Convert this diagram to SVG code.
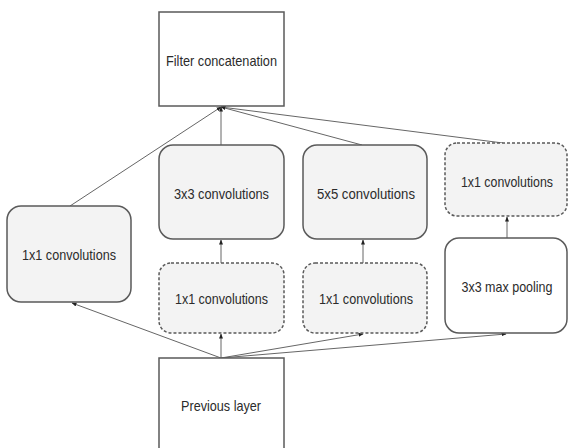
<svg xmlns="http://www.w3.org/2000/svg" width="569" height="448" viewBox="0 0 569 448">
<defs>
<style>
.box{stroke:#5a5a5a;stroke-width:1.5;}
.plain{fill:#ffffff;}
.gray{fill:#f3f3f3;}
.dash{stroke-dasharray:3 2;}
.lbl{font-family:"Liberation Sans",Arial,sans-serif;font-size:14.5px;fill:#2b2b2b;text-anchor:middle;dominant-baseline:central;}
.edge{stroke:#666;stroke-width:1;fill:none;marker-end:url(#ah);}
</style>
<marker id="ah" viewBox="0 0 10 10" refX="9" refY="5" markerWidth="5" markerHeight="5" orient="auto">
<path d="M0,1 L10,5 L0,9 z" fill="#222"/>
</marker>
</defs>
<rect width="569" height="448" fill="#ffffff"/>
<g id="connectors">
<line class="edge" x1="221" y1="358" x2="221" y2="334"/>
<line class="edge" x1="221" y1="358" x2="72" y2="303"/>
<line class="edge" x1="221" y1="358" x2="363" y2="334"/>
<line class="edge" x1="221" y1="358" x2="506" y2="334"/>
<line class="edge" x1="221" y1="263" x2="221" y2="240"/>
<line class="edge" x1="363" y1="263" x2="363" y2="240"/>
<line class="edge" x1="507" y1="238" x2="507" y2="217"/>
<line class="edge" x1="70" y1="206" x2="221" y2="107"/>
<line class="edge" x1="221" y1="145" x2="221" y2="107"/>
<line class="edge" x1="362" y1="145" x2="221" y2="107"/>
<line class="edge" x1="503" y1="143" x2="221" y2="107"/>
</g>
<g id="filter-concat">
<rect class="box plain" x="159" y="12" width="125" height="94"/>
<text class="lbl" x="221.5" y="61" textLength="111" lengthAdjust="spacingAndGlyphs">Filter concatenation</text>
</g>
<g id="left-1x1">
<rect class="box gray" x="7" y="206" width="124" height="96" rx="14"/>
<text class="lbl" x="69" y="255" textLength="94" lengthAdjust="spacingAndGlyphs">1x1 convolutions</text>
</g>
<g id="conv3x3">
<rect class="box gray" x="159" y="145" width="125" height="94" rx="14"/>
<text class="lbl" x="221.5" y="194" textLength="95" lengthAdjust="spacingAndGlyphs">3x3 convolutions</text>
</g>
<g id="reduce3x3">
<rect class="box gray dash" x="159" y="263" width="125" height="70" rx="12"/>
<text class="lbl" x="221.5" y="299" textLength="93" lengthAdjust="spacingAndGlyphs">1x1 convolutions</text>
</g>
<g id="conv5x5">
<rect class="box gray" x="303" y="145" width="124" height="94" rx="14"/>
<text class="lbl" x="366" y="194" textLength="98" lengthAdjust="spacingAndGlyphs">5x5 convolutions</text>
</g>
<g id="reduce5x5">
<rect class="box gray dash" x="303" y="263" width="124" height="70" rx="12"/>
<text class="lbl" x="366" y="299" textLength="94" lengthAdjust="spacingAndGlyphs">1x1 convolutions</text>
</g>
<g id="pool-proj">
<rect class="box gray dash" x="445" y="143" width="122" height="73" rx="12"/>
<text class="lbl" x="507" y="182" textLength="92" lengthAdjust="spacingAndGlyphs">1x1 convolutions</text>
</g>
<g id="maxpool">
<rect class="box plain" x="445" y="238" width="122" height="95" rx="14"/>
<text class="lbl" x="507" y="287" textLength="91" lengthAdjust="spacingAndGlyphs">3x3 max pooling</text>
</g>
<g id="previous-layer">
<rect class="box plain" x="159" y="358" width="125" height="100"/>
<text class="lbl" x="221" y="406" textLength="80" lengthAdjust="spacingAndGlyphs">Previous layer</text>
</g>
</svg>
